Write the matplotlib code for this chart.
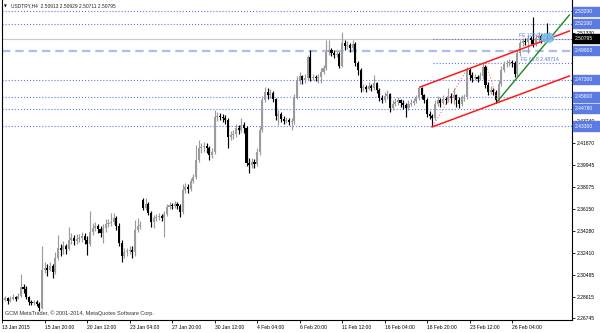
import matplotlib
matplotlib.use("Agg")
import matplotlib.pyplot as plt
import matplotlib.transforms as mtransforms
from matplotlib.patches import Rectangle, Ellipse

plt.rcParams['font.family'] = ['Liberation Sans', 'DejaVu Sans']
plt.rcParams['lines.scale_dashes'] = False

# --- USDTRY H4 candles (13 Jan - 27 Feb 2015) ---
closes = [
    2.2832, 2.2849, 2.2823, 2.2841, 2.2858, 2.2841, 2.2867, 2.2944, 2.2927, 2.2858,
    2.2815, 2.2806, 2.2815, 2.2798, 2.2763, 2.3090, 2.3108, 2.3090, 2.3125, 2.3073,
    2.3194, 2.3280, 2.3263, 2.3297, 2.3271, 2.3349, 2.3366, 2.3340, 2.3357, 2.3366,
    2.3383, 2.3349, 2.3314, 2.3418, 2.3452, 2.3469, 2.3443, 2.3409, 2.3452, 2.3486,
    2.3495, 2.3504, 2.3538, 2.3469, 2.3323, 2.3211, 2.3245, 2.3254, 2.3263, 2.3245,
    2.3435, 2.3469, 2.3478, 2.3624, 2.3659, 2.3581, 2.3504, 2.3538, 2.3547, 2.3555,
    2.3538, 2.3573, 2.3633, 2.3650, 2.3641, 2.3659, 2.3641, 2.3590, 2.3779, 2.3805,
    2.3788, 2.3857, 2.3891, 2.4037, 2.4141, 2.4149, 2.4158, 2.4141, 2.4081, 2.4106,
    2.4408, 2.4416, 2.4408, 2.4399, 2.4382, 2.4235, 2.4253, 2.4261, 2.4313, 2.4296,
    2.4339, 2.4313, 2.4012, 2.3994, 2.4020, 2.4003, 2.4106, 2.4296, 2.4554, 2.4623,
    2.4597, 2.4614, 2.4563, 2.4416, 2.4433, 2.4390, 2.4373, 2.4382, 2.4365, 2.4373,
    2.4580, 2.4726, 2.4761, 2.4726, 2.4743, 2.4924, 2.4743, 2.4752, 2.4743, 2.4752,
    2.4795, 2.4830, 2.4967, 2.4985, 2.4959, 2.4941, 2.4950, 2.4847, 2.5045, 2.5019,
    2.5028, 2.5002, 2.5036, 2.4873, 2.4812, 2.4657, 2.4666, 2.4649, 2.4675, 2.4657,
    2.4700, 2.4640, 2.4571, 2.4554, 2.4588, 2.4606, 2.4485, 2.4520, 2.4537, 2.4554,
    2.4528, 2.4511, 2.4485, 2.4520, 2.4528, 2.4545, 2.4571, 2.4657, 2.4597, 2.4554,
    2.4433, 2.4416, 2.4399, 2.4520, 2.4554, 2.4528, 2.4563, 2.4554, 2.4588, 2.4571,
    2.4597, 2.4554, 2.4520, 2.4571, 2.4580, 2.4812, 2.4769, 2.4743, 2.4752, 2.4735,
    2.4761, 2.4838, 2.4683, 2.4623, 2.4640, 2.4623, 2.4554, 2.4692, 2.4812, 2.4864,
    2.4873, 2.4881, 2.4873, 2.4778, 2.4959, 2.5045, 2.5062, 2.5053, 2.5088, 2.5071,
    2.5036, 2.5088, 2.5105, 2.5071, 2.5096, 2.5088, 2.5105, 2.50795,
]
highs = [
    2.2858, 2.2867, 2.2858, 2.2867, 2.2884, 2.2867, 2.2892, 2.3056, 2.2970, 2.2953,
    2.2867, 2.2832, 2.2832, 2.2832, 2.2815, 2.3297, 2.3159, 2.3142, 2.3159, 2.3142,
    2.3245, 2.3392, 2.3314, 2.3340, 2.3314, 2.3461, 2.3409, 2.3392, 2.3400, 2.3400,
    2.3418, 2.3409, 2.3383, 2.3598, 2.3495, 2.3504, 2.3486, 2.3469, 2.3486, 2.3529,
    2.3529, 2.3581, 2.3581, 2.3555, 2.3495, 2.3349, 2.3280, 2.3280, 2.3297, 2.3297,
    2.3521, 2.3538, 2.3512, 2.3710, 2.3710, 2.3676, 2.3598, 2.3564, 2.3573, 2.3581,
    2.3573, 2.3598, 2.3659, 2.3676, 2.3667, 2.3684, 2.3676, 2.3659, 2.3831, 2.3839,
    2.3831, 2.3882, 2.3917, 2.4167, 2.4210, 2.4184, 2.4192, 2.4184, 2.4158, 2.4141,
    2.4468, 2.4451, 2.4442, 2.4433, 2.4425, 2.4399, 2.4287, 2.4296, 2.4347, 2.4339,
    2.4399, 2.4365, 2.4330, 2.4055, 2.4055, 2.4046, 2.4141, 2.4330, 2.4588, 2.4666,
    2.4657, 2.4649, 2.4631, 2.4571, 2.4468, 2.4451, 2.4416, 2.4408, 2.4399, 2.4399,
    2.4606, 2.4761, 2.4795, 2.4769, 2.4778, 2.4941, 2.4985, 2.4778, 2.4769, 2.4778,
    2.4830, 2.4855, 2.5071, 2.5071, 2.5002, 2.4985, 2.4976, 2.4967, 2.5140, 2.5071,
    2.5062, 2.5045, 2.5071, 2.5053, 2.4890, 2.4830, 2.4692, 2.4683, 2.4709, 2.4692,
    2.4769, 2.4709, 2.4657, 2.4597, 2.4623, 2.4640, 2.4614, 2.4554, 2.4571, 2.4580,
    2.4563, 2.4554, 2.4528, 2.4554, 2.4563, 2.4571, 2.4597, 2.4675, 2.4666, 2.4606,
    2.4571, 2.4459, 2.4433, 2.4554, 2.4588, 2.4571, 2.4597, 2.4580, 2.4657, 2.4614,
    2.4657, 2.4606, 2.4580, 2.4597, 2.4606, 2.4838, 2.4830, 2.4795, 2.4778, 2.4769,
    2.4795, 2.4873, 2.4855, 2.4709, 2.4675, 2.4657, 2.4640, 2.4726, 2.4847, 2.4890,
    2.4898, 2.4907, 2.4898, 2.4890, 2.4985, 2.5071, 2.5088, 2.5088, 2.5114, 2.5105,
    2.5269, 2.5122, 2.5140, 2.5122, 2.5131, 2.5217, 2.5140, 2.50929,
]
lows = [
    2.2806, 2.2823, 2.2798, 2.2815, 2.2832, 2.2823, 2.2841, 2.2858, 2.2892, 2.2841,
    2.2789, 2.2789, 2.2789, 2.2780, 2.2737, 2.2755, 2.3065, 2.3039, 2.3082, 2.3021,
    2.3056, 2.3176, 2.3211, 2.3228, 2.3228, 2.3263, 2.3314, 2.3306, 2.3314, 2.3331,
    2.3331, 2.3314, 2.3220, 2.3297, 2.3392, 2.3426, 2.3409, 2.3374, 2.3323, 2.3418,
    2.3461, 2.3469, 2.3486, 2.3435, 2.3297, 2.3159, 2.3194, 2.3211, 2.3228, 2.3194,
    2.3211, 2.3418, 2.3443, 2.3607, 2.3607, 2.3564, 2.3461, 2.3452, 2.3512, 2.3521,
    2.3512, 2.3374, 2.3555, 2.3616, 2.3616, 2.3624, 2.3616, 2.3547, 2.3573, 2.3753,
    2.3753, 2.3771, 2.3839, 2.3874, 2.4020, 2.4098, 2.4106, 2.4098, 2.4037, 2.4055,
    2.4089, 2.4373, 2.4382, 2.4365, 2.4347, 2.4141, 2.4210, 2.4218, 2.4235, 2.4261,
    2.4278, 2.4270, 2.3986, 2.3925, 2.3969, 2.3969, 2.3986, 2.4081, 2.4278, 2.4537,
    2.4563, 2.4571, 2.4537, 2.4382, 2.4339, 2.4365, 2.4347, 2.4356, 2.4339, 2.4296,
    2.4347, 2.4563, 2.4692, 2.4692, 2.4700, 2.4726, 2.4717, 2.4726, 2.4717, 2.4700,
    2.4700, 2.4778, 2.4812, 2.4941, 2.4933, 2.4916, 2.4924, 2.4830, 2.4838, 2.4985,
    2.4993, 2.4967, 2.4985, 2.4847, 2.4769, 2.4623, 2.4631, 2.4623, 2.4640, 2.4631,
    2.4640, 2.4614, 2.4545, 2.4528, 2.4537, 2.4563, 2.4451, 2.4468, 2.4502, 2.4511,
    2.4494, 2.4477, 2.4408, 2.4468, 2.4502, 2.4511, 2.4528, 2.4554, 2.4563, 2.4528,
    2.4408, 2.4390, 2.4330, 2.4382, 2.4502, 2.4494, 2.4520, 2.4520, 2.4537, 2.4528,
    2.4520, 2.4494, 2.4485, 2.4502, 2.4545, 2.4563, 2.4726, 2.4709, 2.4726, 2.4709,
    2.4726, 2.4735, 2.4657, 2.4597, 2.4606, 2.4597, 2.4528, 2.4537, 2.4675, 2.4795,
    2.4838, 2.4847, 2.4838, 2.4752, 2.4761, 2.4933, 2.5019, 2.5028, 2.4959, 2.5036,
    2.5010, 2.5019, 2.5062, 2.5045, 2.5062, 2.5053, 2.5062, 2.50711,
]
first_open = 2.2841
gap_opens = {53: 2.3693, 207: 2.50913}

date_ticks = [0, 16, 32, 48, 64, 80, 96, 112, 128, 144, 160, 176, 192]
date_labels = ["13 Jan 2015", "15 Jan 20:00", "20 Jan 12:00", "23 Jan 04:00",
               "27 Jan 20:00", "30 Jan 12:00", "4 Feb 04:00", "6 Feb 20:00",
               "11 Feb 12:00", "16 Feb 04:00", "18 Feb 20:00", "23 Feb 12:00",
               "26 Feb 04:00"]
price_ticks = [2.26745, 2.28615, 2.30485, 2.32410, 2.34280, 2.36150, 2.38075,
               2.39945, 2.41870, 2.43740, 2.45610, 2.47535, 2.49460, 2.51330, 2.53200]
# scale labels that sit fully under a price box
hidden_ticks = [2.45610, 2.47535, 2.53200]

# horizontal levels drawn on the chart
dotted_levels = [2.53200, 2.52100, 2.47300, 2.45800, 2.44780, 2.43300]
dashed_level = 2.49800
bid_price = 2.50795
box_levels = [2.53200, 2.52100, 2.49800, 2.47300, 2.45800, 2.44780, 2.43300]

# trend objects: (bar index, price)
channel_top = [(157.4, 2.4666), (213.6, 2.5148)]
channel_bottom = [(161.9, 2.4322), (213.6, 2.4761)]
green_trend = [(186.6, 2.4545), (213.6, 2.5286)]
fe_leg1 = [(162.2, 2.4330), (175.4, 2.4830)]
fe_leg2 = [(182.1, 2.4873), (186.6, 2.4545)]
fe_levels = {"FE 61.8": 2.48714, "FE 100": 2.50790}

# --- figure ---
W, H = 600, 333
fig = plt.figure(figsize=(6, 3.33), dpi=100)
L_px, R_px, B_px = 2, 572, 320
ax = fig.add_axes([L_px / W, (H - B_px) / H, (R_px - L_px) / W, B_px / H])
bar_px = 2.655
x0 = -0.1
ax.set_xlim(x0, x0 + (R_px - L_px) / bar_px)
ax.set_ylim(2.2660, 2.5415)

BULL, BEAR = "#9c9c9c", "#000000"
opens = [first_open] + closes[:-1]
for k, v in gap_opens.items():
    opens[k] = v

for i, (o, h, l, c) in enumerate(zip(opens, highs, lows, closes)):
    col = BULL if c >= o else BEAR
    ax.vlines(i, l, h, color=col, lw=0.85, zorder=3)
    ax.bar(i, max(abs(c - o), 0.0005), bottom=min(o, c), width=0.78,
           color=col, linewidth=0, zorder=3)

blue = "#5b7be3"
for lv in dotted_levels:
    ax.axhline(lv, color=blue, lw=0.8, dashes=(0.8, 1.4), zorder=1)
ax.axhline(dashed_level, color="#aebdf0", lw=1.6, dashes=(6, 3.6), zorder=1)
ax.axhline(bid_price, color="#c8c8c8", lw=0.8, zorder=1)

# fibo expansion levels
for name, lv in fe_levels.items():
    ax.plot([162.2, 230], [lv, lv], color=blue, lw=0.8, dashes=(0.8, 1.4), zorder=2)
ax.text(195.5, 2.48714 + 0.0007, "FE 61.8 2.48714", color=blue, fontsize=3.7,
        va="bottom", ha="left", zorder=6)
ax.text(194.5, 2.50790 + 0.0007, "FE 100 2.50790", color=blue, fontsize=3.7,
        va="bottom", ha="left", zorder=6)
ax.add_patch(Ellipse((205.3, 2.5085), 5.2, 0.0085, color="#7cc0ea", alpha=0.85,
                     lw=0, zorder=7))

def ray(pts, **kw):
    (xa, ya), (xb, yb) = pts
    ax.plot([xa, xb], [ya, yb], **kw)

ray(channel_top, color="#ff1a1a", lw=1.1, zorder=5)
ray(channel_bottom, color="#ff1a1a", lw=1.1, zorder=5)
ray(green_trend, color="#1a8c1a", lw=1.0, zorder=5)
ray(fe_leg1, color="#ff6060", lw=0.7, dashes=(0.8, 1.4), zorder=4)
ray(fe_leg2, color="#ff6060", lw=0.7, dashes=(0.8, 1.4), zorder=4)

# --- axes styling ---
for side in ["left", "bottom", "right"]:
    ax.spines[side].set_linewidth(0.8)
ax.spines["top"].set_visible(False)

ax.set_xticks(date_ticks)
ax.set_xticklabels(date_labels, fontsize=3.6, ha="left")
ax.yaxis.tick_right()
ax.set_yticks(price_ticks)
ax.set_yticklabels(["" if p in hidden_ticks else f"{p:.5f}" for p in price_ticks],
                   fontsize=3.6)
ax.tick_params(axis="x", direction="out", length=2.2, width=0.6, pad=1.2)
ax.tick_params(axis="y", direction="out", length=2.2, width=0.6, pad=1.2)

# price boxes on the right scale
tr = mtransforms.blended_transform_factory(ax.transAxes, ax.transData)
bw = 28 / (R_px - L_px)
bh = 0.0078
for lv in box_levels:
    ax.add_patch(Rectangle((1.0015, lv - bh / 2), bw, bh, transform=tr,
                           color=blue, clip_on=False, zorder=8))
    ax.text(1.0045, lv, f"{lv:.5f}", transform=tr, color="white", fontsize=3.6,
            va="center", ha="left", clip_on=False, zorder=9)
ax.add_patch(Rectangle((1.0015, bid_price - bh / 2), bw, bh, transform=tr,
                       color="black", clip_on=False, zorder=8))
ax.text(1.0045, bid_price, f"{bid_price:.5f}", transform=tr, color="white",
        fontsize=3.6, va="center", ha="left", clip_on=False, zorder=9)

# header and watermark
fig.text(4 / W, 1 - 6 / H, "\u25bc", fontsize=2.6, va="center", ha="left",
         family=["DejaVu Sans"])
fig.text(11 / W, 1 - 6 / H, "USDTRY,H4  2.50913 2.50929 2.50711 2.50795",
         fontsize=3.5, va="center", ha="left", color="#202020")
fig.text(5 / W, 1 - 313 / H, "GCM MetaTrader, \u00a9 2001-2014, MetaQuotes Software Corp.",
         fontsize=4.0, va="center", ha="left", color="#333333")

fig.savefig("out.png", dpi=100)
